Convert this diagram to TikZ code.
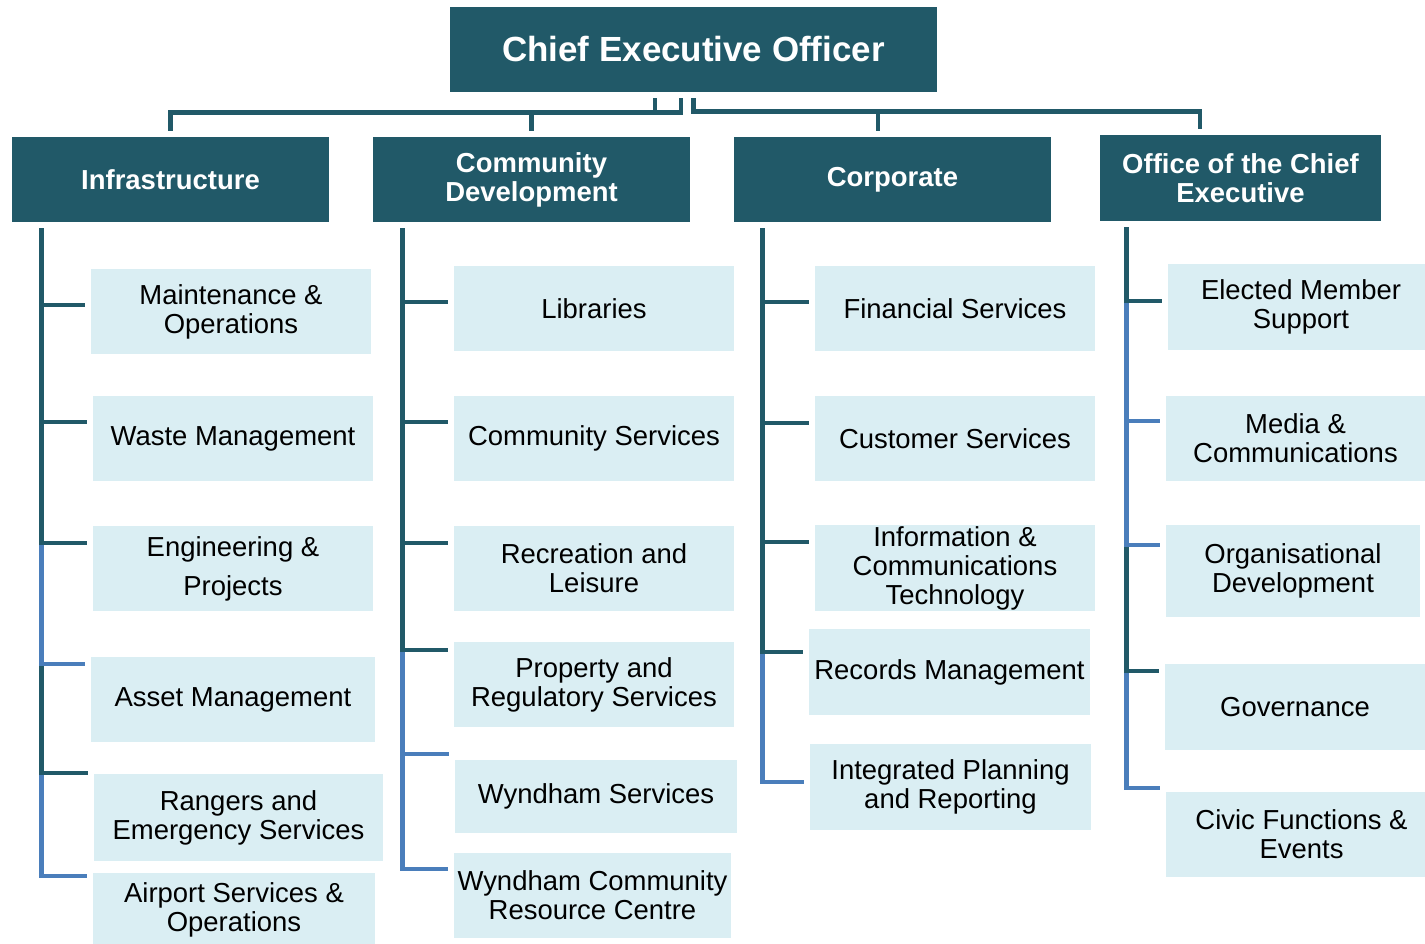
\documentclass[tikz,border=0pt]{standalone}
\usepackage{fontspec}
\setmainfont{Liberation Sans}
\usetikzlibrary{calc}
\definecolor{hdr}{HTML}{215968}
\definecolor{leafbg}{HTML}{DAEEF3}
\definecolor{linkblue}{HTML}{4A7EBB}

\begin{document}
\begin{tikzpicture}[x=0.75pt,y=-0.75pt,
		chief/.style={fill=hdr, text=white, inner sep=0pt, align=center, minimum width=365.25pt, minimum height=63.75pt, font=\fontsize{26.2}{28}\selectfont\bfseries},
		dept/.style={fill=hdr, text=white, inner sep=0pt, align=center, minimum width=237.75pt, minimum height=63.75pt, font=\fontsize{20.6}{21.75}\selectfont\bfseries},
		unit/.style={fill=leafbg, inner sep=0pt, align=center, minimum width=210pt, minimum height=63.75pt, font=\fontsize{20.6}{21.75}\selectfont},
		dkline/.style={line width=3.4pt, draw=hdr, shorten <=4.5pt, shorten >=4.5pt},
		blline/.style={dkline, draw=linkblue}]
		\useasboundingbox (0,0) rectangle (1425,943);

			    \node[chief] (EX) at (693.5,49.5) {Chief Executive Officer};

			    \node[dept] (HA) at (170.5,179.5) {Infrastructure};
			    \node[dept] (HB) at (531.5,179.5) {Community\\Development};
			    \node[dept] (HC) at (892.5,179.5) {Corporate};
			    \node[dept, minimum width=210.75pt, minimum height=64.5pt] (HD) at (1240.5,178) {Office of the Chief\\Executive};

			    % infrastructure
		    	\node[unit] (AA) at (231,311.5) {Maintenance \&\\Operations};
		    	\node[unit] (AB) at (233,438.5) {Waste Management};
		    	\node[unit] (AC) at (233,568.5) {Engineering \&\\[7.5pt]Projects};
		    	\node[unit, minimum width=213pt] (AD) at (233,699.5) {Asset Management};
		    	\node[unit, minimum width=216.75pt, minimum height=65.25pt] (AE) at (238.5,817.5) {Rangers and\\Emergency Services};
		    	\node[unit, minimum width=211.5pt, minimum height=54.75pt] (AF) at (234,909.5) {Airport Services \&\\Operations};

			    % community development
		    	\node[unit] (BA) at (594,308.5) {Libraries};
		    	\node[unit] (BB) at (594,438.5) {Community Services};
		    	\node[unit] (BC) at (594,568.5) {Recreation and\\Leisure};
		    	\node[unit] (BD) at (594,684.5) {Property and\\Regulatory Services};
		    	\node[unit, minimum width=211.5pt, minimum height=54.75pt] (BE) at (596,796.5) {Wyndham Services};
		    	\node[unit, minimum width=207.75pt] (BF) at (592.5,895.5) {Wyndham Community\\Resource Centre};

			    % corporate
		    	\node[unit] (CA) at (955,308.5) {Financial Services};
		    	\node[unit] (CB) at (955,438.5) {Customer Services};
		    	\node[unit, minimum height=64.5pt] (CC) at (955,568) {Information \&\\Communications\\Technology};
		    	\node[unit, minimum width=210.75pt, minimum height=64.5pt] (CD) at (949.5,672) {Records Management};
		    	\node[unit, minimum width=210.75pt, minimum height=64.5pt] (CE) at (950.5,787) {Integrated Planning\\and Reporting};

			    % office of the chief executive
		    	\node[unit, minimum width=199.5pt, minimum height=64.5pt] (DA) at (1301,307) {Elected Member\\Support};
		    	\node[unit, minimum width=194.25pt] (DB) at (1295.5,438.5) {Media \&\\Communications};
		    	\node[unit, minimum width=190.5pt, minimum height=69pt] (DC) at (1293,571) {Organisational\\Development};
		    	\node[unit, minimum width=195pt, minimum height=64.5pt] (DD) at (1295,707) {Governance};
		    	\node[unit, minimum width=203.25pt] (DE) at (1301.5,834.5) {Civic Functions \&\\Events};

		    	\draw[dkline] ($(EX.south)+(-12.5,0)$) |- ($(HA.north)+(0,-24)$) -- (HA.north);
		    	\draw[dkline] ($(EX.south)+(-38.5,0)$) |- ($(HB.north)+(0,-24)$) -- (HB.north);
		    	\draw[dkline] (EX.south) |- ($(HC.north)+(-14.5,-25)$) -- ($(HC.north)+(-14.5,0)$);
		    	\draw[dkline] (EX.south) |- ($(HD.north)+(-40.5,-23)$) -- ($(HD.north)+(-40.5,0)$);

		    	\draw[blline] ($(HA.south west)+(30,0)$) |- ($(AF.west)+(0,-33.5)$);
		    	\draw[dkline] ($(HA.south west)+(30,0)$) |- ($(AE.west)+(0,-44.5)$);
		    	\draw[blline] ($(HA.south west)+(30,0)$) |- ($(AD.west)+(0,-35.5)$);
		    	\draw[dkline] ($(HA.south west)+(30,0)$) |- ($(AC.west)+(0,-25.5)$);
		    	\draw[dkline] ($(HA.south west)+(30,0)$) |- ($(AB.west)+(0,-16.5)$);
		    	\draw[dkline] ($(HA.south west)+(30,0)$) |- ($(AA.west)+(0,-6.5)$);

		    	\draw[blline] ($(HB.south west)+(30,0)$) |- ($(BF.west)+(0,-26.5)$);
		    	\draw[blline] ($(HB.south west)+(30,0)$) |- ($(BE.west)+(0,-42.5)$);
		    	\draw[dkline] ($(HB.south west)+(30,0)$) |- ($(BD.west)+(0,-34.5)$);
		    	\draw[dkline] ($(HB.south west)+(30,0)$) |- ($(BC.west)+(0,-25.5)$);
		    	\draw[dkline] ($(HB.south west)+(30,0)$) |- ($(BB.west)+(0,-16.5)$);
		    	\draw[dkline] ($(HB.south west)+(30,0)$) |- ($(BA.west)+(0,-6.5)$);

		    	\draw[blline] ($(HC.south west)+(29,0)$) |- ($(CE.west)+(0,-5)$);
		    	\draw[dkline] ($(HC.south west)+(29,0)$) |- ($(CD.west)+(0,-20)$);
		    	\draw[dkline] ($(HC.south west)+(29,0)$) |- ($(CC.west)+(0,-26)$);
		    	\draw[dkline] ($(HC.south west)+(29,0)$) |- ($(CB.west)+(0,-15.5)$);
		    	\draw[dkline] ($(HC.south west)+(29,0)$) |- ($(CA.west)+(0,-6.5)$);

		    	\draw[blline] ($(HD.south west)+(27,0)$) |- ($(DE.west)+(0,-46.5)$);
		    	\draw[dkline] ($(HD.south west)+(27,0)$) |- ($(DD.west)+(0,-36)$);
		    	\draw[blline] ($(HD.south west)+(27,0)$) |- ($(DC.west)+(0,-26)$);
		    	\draw[blline] ($(HD.south west)+(27,0)$) |- ($(DB.west)+(0,-17.5)$);
		    	\draw[dkline] ($(HD.south west)+(27,0)$) |- ($(DA.west)+(0,-6)$);
		    \end{tikzpicture}
\end{document}
